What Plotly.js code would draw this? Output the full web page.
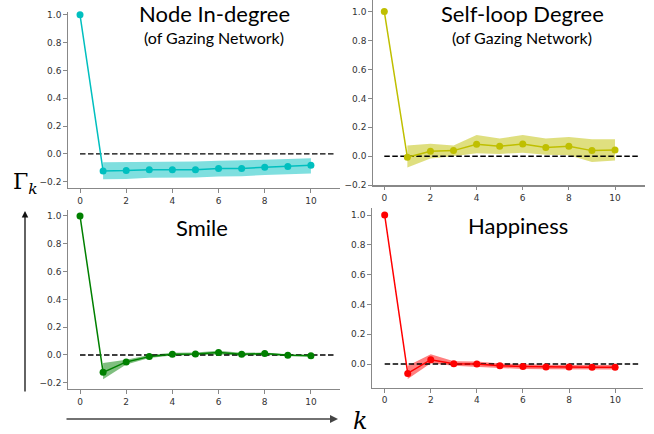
<!DOCTYPE html>
<html>
<head>
<meta charset="utf-8">
<script src="https://cdn.plot.ly/plotly-3.0.1.min.js"></script>
<style>html,body{margin:0;padding:0;background:#fff}#chart{width:654px;height:434px}</style>
</head>
<body>
<div id="chart"></div>
<script>
// ---- data ----
const lags = [0,1,2,3,4,5,6,7,8,9,10];
const bandLags = [1,2,3,4,5,6,7,8,9,10];
const refLineX = [0, 11];
const refLineY = [0, 0];

const inDegree   = [1.0,-0.122,-0.120,-0.113,-0.113,-0.113,-0.105,-0.105,-0.096,-0.091,-0.081];
const inDegreeLo = [-0.182,-0.180,-0.172,-0.170,-0.170,-0.162,-0.160,-0.152,-0.147,-0.141];
const inDegreeHi = [-0.060,-0.060,-0.055,-0.055,-0.055,-0.050,-0.048,-0.042,-0.036,-0.031];

const selfLoop   = [1.0,-0.007,0.035,0.039,0.083,0.069,0.085,0.060,0.069,0.039,0.044];
const selfLoopLo = [-0.078,-0.016,0.000,0.020,0.016,0.025,0.010,0.007,-0.040,-0.030];
const selfLoopHi = [0.074,0.087,0.074,0.147,0.122,0.147,0.122,0.133,0.117,0.117];

const smile   = [1.0,-0.125,-0.050,-0.012,0.005,0.007,0.017,0.005,0.010,-0.002,-0.005];
const smileLo = [-0.175,-0.068,-0.022,-0.004,-0.003,0.004,-0.004,0.000,-0.008,-0.012];
const smileHi = [-0.058,-0.034,0.000,0.015,0.017,0.030,0.015,0.018,0.005,0.002];

const happiness   = [1.0,-0.063,0.029,0.002,0.000,-0.011,-0.016,-0.020,-0.020,-0.022,-0.022];
const happinessLo = [-0.100,0.005,-0.011,-0.018,-0.030,-0.034,-0.036,-0.036,-0.037,-0.037];
const happinessHi = [-0.011,0.065,0.018,0.016,0.004,-0.002,-0.005,-0.006,-0.007,-0.007];

const titles = ["Node In-degree", "Self-loop Degree", "Smile", "Happiness"];
const subtitles = ["(of Gazing Network)", "(of Gazing Network)", "", ""];
const xTicks = [0,2,4,6,8,10];
const yTicksFull = [-0.2,0,0.2,0.4,0.6,0.8,1.0];
const yTicksPos = [0,0.2,0.4,0.6,0.8,1.0];

// ---- layout helpers ----
const W = 654, H = 434;
const px = v => v / W;
const py = v => 1 - v / H;

const panels = [
  {series: inDegree, lo: inDegreeLo, hi: inDegreeHi, color: '#00bfbf', band: 'rgba(0,191,191,0.5)',
   xdom: [68, 340], ydom: [188, 12], xr: [-0.52, 11.26], yr: [-0.245, 1.02], yt: yTicksFull},
  {series: selfLoop, lo: selfLoopLo, hi: selfLoopHi, color: '#bfbf00', band: 'rgba(191,191,0,0.5)',
   xdom: [373, 645], ydom: [185.2, 0], xr: [-0.49, 11.3], yr: [-0.2, 1.08], yt: yTicksFull},
  {series: smile, lo: smileLo, hi: smileHi, color: '#008000', band: 'rgba(0,128,0,0.5)',
   xdom: [68, 340], ydom: [389, 210], xr: [-0.52, 11.26], yr: [-0.245, 1.043], yt: yTicksFull},
  {series: happiness, lo: happinessLo, hi: happinessHi, color: '#ff0000', band: 'rgba(255,0,0,0.5)',
   xdom: [372, 643], ydom: [387.7, 208.3], xr: [-0.55, 11.21], yr: [-0.159, 1.045], yt: yTicksPos}
];

const traces = [];
const layout = {
  width: W, height: H,
  margin: {l: 0, r: 0, t: 0, b: 0},
  paper_bgcolor: '#ffffff', plot_bgcolor: 'rgba(0,0,0,0)',
  showlegend: false,
  font: {family: 'DejaVu Sans', size: 9, color: '#333'},
  annotations: [], shapes: []
};

panels.forEach((p, i) => {
  const n = i === 0 ? '' : String(i + 1);
  const xa = 'x' + n, ya = 'y' + n;
  traces.push({x: bandLags, y: p.lo, xaxis: xa, yaxis: ya, mode: 'lines', line: {width: 0, color: p.band}, hoverinfo: 'skip'});
  traces.push({x: bandLags, y: p.hi, xaxis: xa, yaxis: ya, mode: 'lines', line: {width: 0, color: p.band}, fill: 'tonexty', fillcolor: p.band, hoverinfo: 'skip'});
  traces.push({x: refLineX, y: refLineY, xaxis: xa, yaxis: ya, mode: 'lines', line: {color: '#000', width: 1.4, dash: '5.5px,2.5px'}});
  traces.push({x: lags, y: p.series, xaxis: xa, yaxis: ya, mode: 'lines+markers', cliponaxis: false,
    line: {color: p.color, width: 1.5}, marker: {color: p.color, size: 7}});
  const axStyle = {showgrid: false, zeroline: false, showline: true, linecolor: '#888', linewidth: 1.3,
    ticks: 'outside', ticklen: 3.5, tickwidth: 1, tickcolor: '#888', tickfont: {family: 'DejaVu Sans', size: 9, color: '#333'}};
  layout['xaxis' + n] = Object.assign({}, axStyle, {anchor: ya, domain: [px(p.xdom[0]), px(p.xdom[1])],
    range: p.xr, tickvals: xTicks, ticktext: xTicks.map(String), fixedrange: true});
  layout['yaxis' + n] = Object.assign({}, axStyle, {anchor: xa, domain: [py(p.ydom[0]), py(p.ydom[1])],
    range: p.yr, tickvals: p.yt, tickformat: '.1f', fixedrange: true});
});

// panel titles
const titlePos = [[214, 14, 37], [522, 14, 37], [202, 228, 0], [518, 226, 0]];
titles.forEach((t, i) => {
  layout.annotations.push({text: t, xref: 'paper', yref: 'paper', x: px(titlePos[i][0]), y: py(titlePos[i][1]),
    xanchor: 'center', yanchor: 'middle', showarrow: false, font: {family: 'Lato', size: 22, color: '#000'}});
  if (subtitles[i]) {
    layout.annotations.push({text: subtitles[i], xref: 'paper', yref: 'paper', x: px(titlePos[i][0]), y: py(titlePos[i][2]),
      xanchor: 'center', yanchor: 'middle', showarrow: false, font: {family: 'Lato', size: 16, color: '#000'}});
  }
});

// axis arrows and labels
layout.annotations.push({text: '', xref: 'paper', yref: 'paper', x: px(25), y: py(211), ax: 0, ay: 182,
  showarrow: true, arrowhead: 2, arrowsize: 1, arrowwidth: 1.3, arrowcolor: '#111'});
layout.annotations.push({text: '', xref: 'paper', yref: 'paper', x: px(338), y: py(419), ax: -273, ay: 0,
  showarrow: true, arrowhead: 2, arrowsize: 1, arrowwidth: 1.6, arrowcolor: '#444'});
layout.annotations.push({text: 'Γ<sub><i>k</i></sub>', xref: 'paper', yref: 'paper', x: px(25), y: py(184),
  xanchor: 'center', yanchor: 'middle', showarrow: false, font: {family: 'DejaVu Serif', size: 22, color: '#000'}});
layout.annotations.push({text: '<i>k</i>', xref: 'paper', yref: 'paper', x: px(360), y: py(421),
  xanchor: 'center', yanchor: 'middle', showarrow: false, font: {family: 'DejaVu Serif', size: 24, color: '#000'}});

Plotly.newPlot('chart', traces, layout, {staticPlot: true, displayModeBar: false});
</script>
</body>
</html>
